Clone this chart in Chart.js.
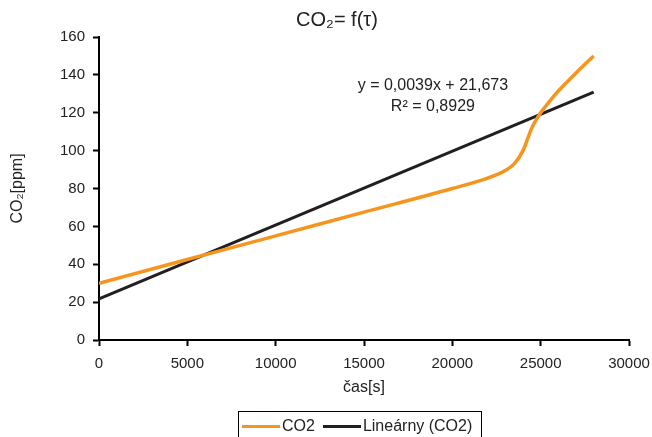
<!DOCTYPE html>
<html lang="sk">
<head>
  <meta charset="UTF-8">
  <title>CO2 = f(tau)</title>
  <script src="https://cdn.jsdelivr.net/npm/chart.js"></script>
  <style>
    body {
      margin: 0;
      background: #fff;
      font-family: 'Liberation Sans', Arial, sans-serif;
    }
    #wrap {
      position: relative;
      width: 652px;
      height: 437px;
    }
    #legend {
      position: absolute;
      left: 238px;
      top: 411px;
      width: 244px;
      height: 30px;
      border: 1px solid #000;
      box-sizing: border-box;
      font-size: 16px;
      color: #222;
      display: flex;
      align-items: center;
      padding-left: 3px;
      white-space: nowrap;
    }
    .sw {
      display: inline-block;
      width: 38px;
      height: 3px;
      margin-right: 2px;
    }
  </style>
</head>
<body>
  <div id="wrap">
    <canvas id="chart" width="652" height="437"></canvas>
    <div id="legend">
      <span class="sw" style="background:#F7941D"></span>CO2
      <span class="sw" style="background:#231F20; margin-left:8px"></span>Lineárny (CO2)
    </div>
  </div>

  <script>
    const casS = [0, 5000, 10000, 15000, 20000, 22000, 23000, 23500, 24000, 24500, 25000, 25500, 26000, 27000, 28000];
    const co2 = [30, 42.5, 55, 67.5, 80, 85.5, 89.5, 93, 100, 112, 120, 126, 131.5, 141, 150];

    // linear trend y = 0,0039x + 21,673
    const trendX = [0, 28000];
    const trendY = [21.673, 21.673 + 0.0039 * 28000];

    const yTicks = [0, 20, 40, 60, 80, 100, 120, 140, 160];
    const xTicks = [0, 5000, 10000, 15000, 20000, 25000, 30000];

    const titleText = 'CO₂= f(τ)';
    const eqLines = ['y = 0,0039x + 21,673', 'R² = 0,8929'];

    const font = "'Liberation Sans', Arial, sans-serif";

    // trendline label + title (title sits a bit left of canvas centre, like Excel)
    const textPlugin = {
      id: 'texts',
      afterDatasetsDraw(chart) {
        const ctx = chart.ctx;
        const x = chart.scales.x.getPixelForValue(18900);
        const y = chart.scales.y.getPixelForValue(134.5);
        ctx.save();
        ctx.fillStyle = '#222';
        ctx.textAlign = 'center';
        ctx.textBaseline = 'middle';
        ctx.font = '16px ' + font;
        ctx.fillText(eqLines[0], x, y);
        ctx.fillText(eqLines[1], x, y + 21);
        ctx.font = '20px ' + font;
        ctx.fillText(titleText, 337, 20);
        ctx.restore();
      }
    };

    new Chart(document.getElementById('chart'), {
      type: 'scatter',
      data: {
        datasets: [{
          label: 'CO2',
          data: casS.map((v, i) => ({ x: v, y: co2[i] })),
          showLine: true,
          borderColor: '#F7941D',
          borderWidth: 3.5,
          pointRadius: 0,
          cubicInterpolationMode: 'monotone'
        }, {
          label: 'Lineárny (CO2)',
          data: trendX.map((v, i) => ({ x: v, y: trendY[i] })),
          showLine: true,
          borderColor: '#231F20',
          borderWidth: 3,
          pointRadius: 0
        }]
      },
      options: {
        responsive: false,
        animation: false,
        layout: { padding: { top: 37, right: 2, bottom: 40, left: 4 } },
        plugins: {
          legend: { display: false },
          tooltip: { enabled: false },
          title: { display: false }
        },
        scales: {
          x: {
            type: 'linear',
            min: 0,
            max: 30000,
            afterBuildTicks(s) { s.ticks = xTicks.map(v => ({ value: v })); },
            afterFit(s) { s.height = 57; s.paddingRight = 23; },
            ticks: { color: '#222', font: { family: font, size: 15 }, padding: 9, callback: v => String(v) },
            grid: { drawOnChartArea: false, color: '#000', tickLength: 6, tickWidth: 2 },
            border: { color: '#000', width: 2 },
            title: { display: true, text: 'čas[s]', color: '#222', font: { family: font, size: 16 }, padding: { top: 4, bottom: 0 } }
          },
          y: {
            min: 0,
            max: 160,
            afterBuildTicks(s) { s.ticks = yTicks.map(v => ({ value: v })); },
            afterFit(s) { s.width = 95; },
            ticks: { color: '#222', font: { family: font, size: 15 }, padding: 8, callback: v => String(v) },
            grid: { drawOnChartArea: false, color: '#000', tickLength: 6, tickWidth: 2 },
            border: { color: '#000', width: 2 },
            title: { display: true, text: 'CO₂[ppm]', color: '#222', font: { family: font, size: 16 }, padding: { top: 4 } }
          }
        }
      },
      plugins: [textPlugin]
    });
  </script>
</body>
</html>
